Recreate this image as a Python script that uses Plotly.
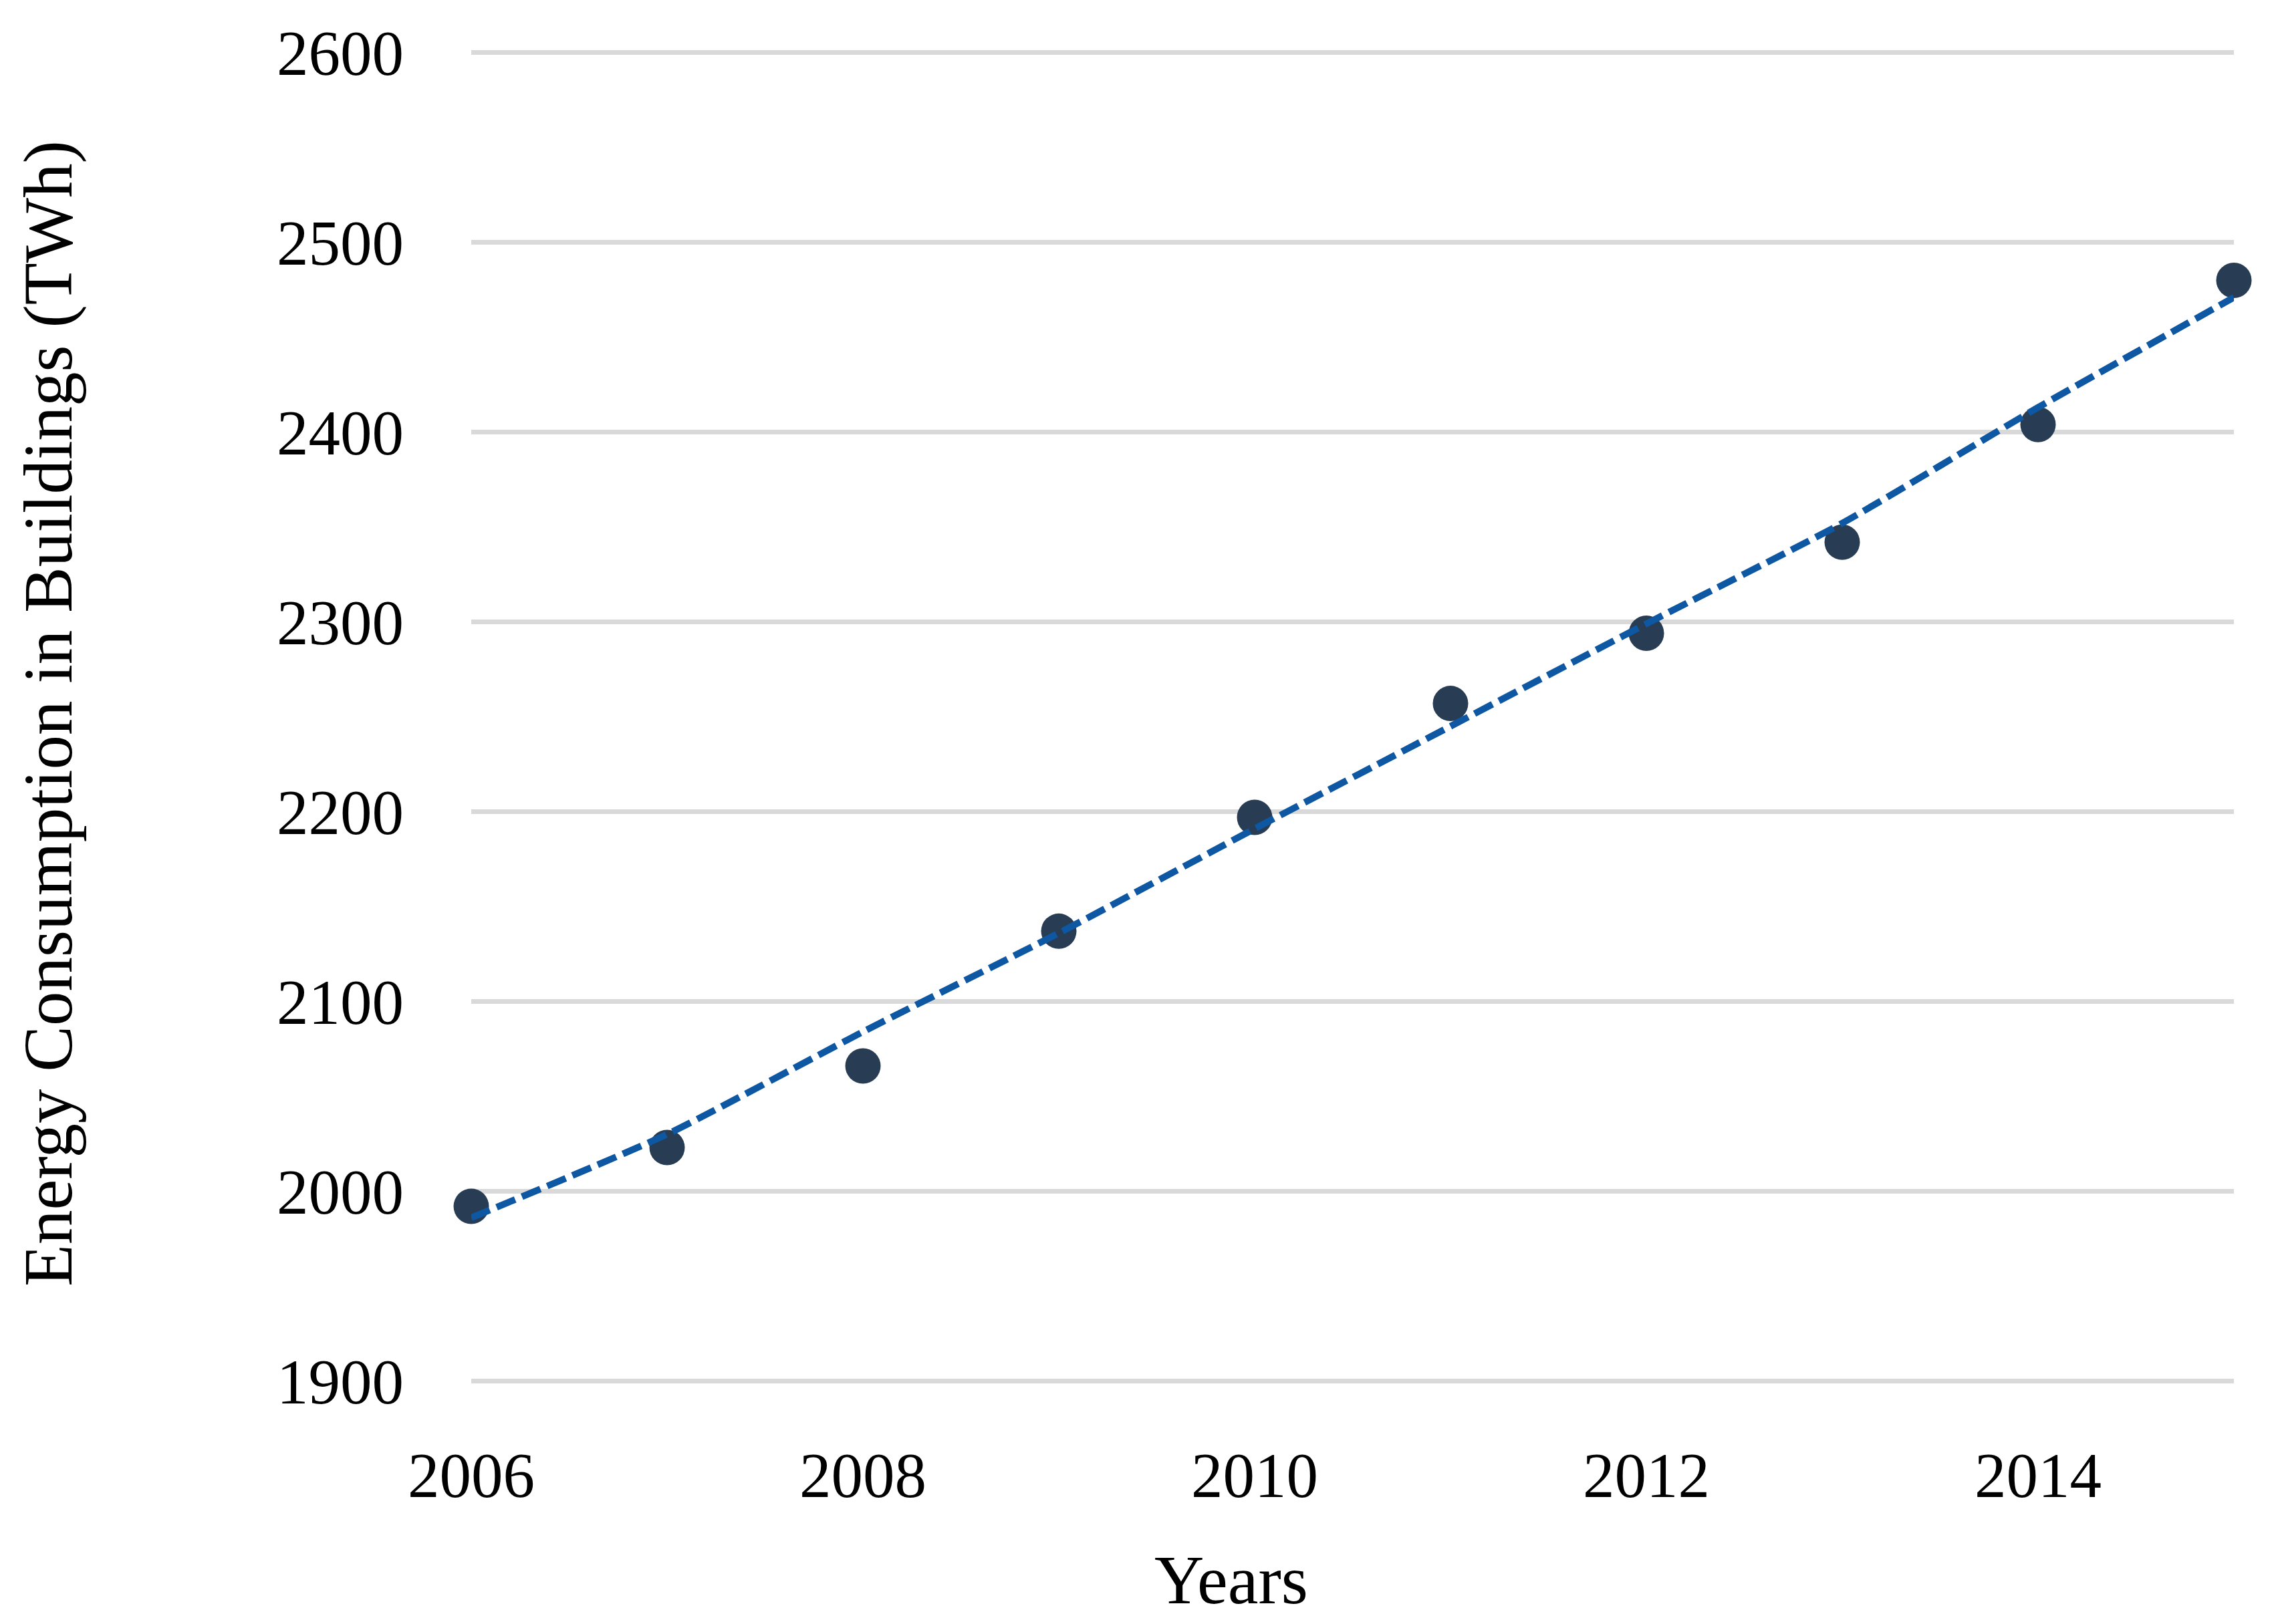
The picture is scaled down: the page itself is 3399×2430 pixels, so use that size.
import plotly.graph_objects as go

years = [2006, 2007, 2008, 2009, 2010, 2011, 2012, 2013, 2014, 2015]
energy = [1992, 2023, 2066, 2137, 2197, 2257, 2294, 2342, 2404, 2480]
trend = [1986, 2030, 2084, 2136, 2191, 2245, 2299, 2352, 2413, 2471]
y_ticks = [1900, 2000, 2100, 2200, 2300, 2400, 2500, 2600]
x_ticks = [2006, 2008, 2010, 2012, 2014]

FONT = "Liberation Serif"
OFF = 8  # default page body margin
W, H = 3399 - OFF, 2430 - OFF
PX_PER_UNIT = 2.838
PAD = 2  # small range padding so the edge gridlines are drawn
L = 705 - OFF
R = W - (3342 - OFF)
T = int(round(79 - OFF - PAD * PX_PER_UNIT))
B = int(round(H - (2066 - OFF + PAD * PX_PER_UNIT)))

fig = go.Figure()
fig.add_trace(go.Scatter(
    x=years, y=energy, mode="markers",
    marker=dict(size=53, color="#283D54", line=dict(width=0)),
    cliponaxis=False, showlegend=False,
))
fig.add_trace(go.Scatter(
    x=years, y=trend, mode="lines",
    line=dict(color="#0E57A3", width=10, dash="30px,11px", shape="spline", smoothing=0.6),
    cliponaxis=False, showlegend=False,
))

pw = W - L - R
ph = H - T - B
y0 = 1900 - PAD
y1 = 2600 + PAD


def yfig_to_paper(py):
    # py: page pixel y -> paper coordinate
    return (H - B - (py - OFF)) / ph


def xfig_to_paper(px):
    return ((px - OFF) - L) / pw


fig.update_layout(
    width=W, height=H,
    margin=dict(l=L, r=R, t=T, b=B, autoexpand=False),
    paper_bgcolor="white", plot_bgcolor="white",
    font=dict(family=FONT, size=95, color="black"),
    xaxis=dict(
        range=[2006, 2015], tickvals=x_ticks, ticktext=[str(v) for v in x_ticks],
        showgrid=False, zeroline=False, showline=False, ticks="",
        ticklabelstandoff=72, tickfont=dict(family=FONT, size=95, color="black"),
    ),
    yaxis=dict(
        range=[y0, y1], tickvals=y_ticks, ticktext=[str(v) for v in y_ticks],
        showgrid=True, gridcolor="#D9D9D9", gridwidth=7,
        zeroline=False, showline=False, ticks="",
        ticklabelstandoff=100, tickfont=dict(family=FONT, size=95, color="black"),
    ),
    annotations=[
        dict(text="Energy Consumption in Buildings (TWh)", xref="paper", yref="paper",
             x=xfig_to_paper(72), y=yfig_to_paper(1068), xanchor="center", yanchor="middle",
             textangle=-90, showarrow=False, font=dict(family=FONT, size=103, color="black")),
        dict(text="Years", xref="paper", yref="paper",
             x=xfig_to_paper(1842), y=yfig_to_paper(2364), xanchor="center", yanchor="middle",
             showarrow=False, font=dict(family=FONT, size=103, color="black")),
    ],
)

fig.write_html("out.html")
